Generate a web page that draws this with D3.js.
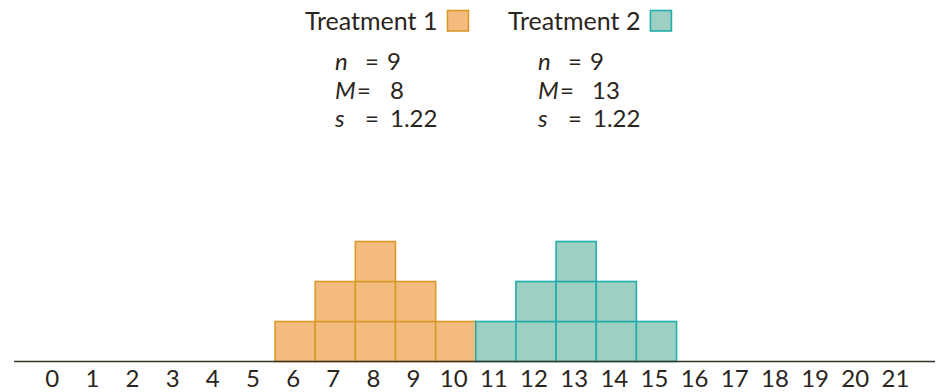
<!DOCTYPE html>
<html>
<head>
<meta charset="utf-8">
<script src="https://cdn.jsdelivr.net/npm/d3@7"></script>
<style>
  html, body { margin: 0; padding: 0; background: #fff; }
  svg { display: block; }
  text { font-family: "Lato", "Noto Sans", sans-serif; fill: #2b2520; }
</style>
</head>
<body>
<svg id="chart" width="936" height="392"></svg>
<script>
// Scores for each treatment group
const treatment1 = [6, 7, 7, 8, 8, 8, 9, 9, 10];
const treatment2 = [11, 12, 12, 13, 13, 13, 14, 14, 15];
const seriesNames = ["Treatment 1", "Treatment 2"];
const tickValues = d3.range(0, 22);

const fills = ["#f3bb7e", "#9dcfc3"];
const strokes = ["#d99a2c", "#23aeaa"];

const svg = d3.select("#chart");
const x = d3.scaleLinear().domain([0, 21]).range([54.2, 897.4]);
const unit = x(1) - x(0);
const y = d3.scaleLinear().domain([0, 3]).range([361.5, 241.5]);
const boxH = y(0) - y(1);

// Stack each score as one box in its column
function stackBoxes(values) {
  const counts = {};
  return values.map(v => {
    counts[v] = (counts[v] || 0) + 1;
    return { value: v, level: counts[v] - 1 };
  });
}

[treatment1, treatment2].forEach((vals, i) => {
  svg.append("g")
    .selectAll("rect")
    .data(stackBoxes(vals))
    .join("rect")
    .attr("x", d => x(d.value) - unit / 2)
    .attr("y", d => y(d.level + 1))
    .attr("width", unit)
    .attr("height", boxH)
    .attr("fill", fills[i])
    .attr("stroke", strokes[i])
    .attr("stroke-width", 1.6);
});

// Baseline (number line)
svg.append("line")
  .attr("x1", 14).attr("x2", 935)
  .attr("y1", y(0)).attr("y2", y(0))
  .attr("stroke", "#3a3128").attr("stroke-width", 1.5);

// Tick labels
svg.append("g")
  .selectAll("text")
  .data(tickValues)
  .join("text")
  .attr("x", d => x(d) - 2)
  .attr("y", 387)
  .attr("text-anchor", "middle")
  .attr("font-size", 24)
  .text(d => d);

// Legend and summary statistics
function stats(vals) {
  return { n: vals.length, m: d3.mean(vals), s: d3.deviation(vals) };
}

const legendX = [305, 508];
const statX = [335, 538];
[treatment1, treatment2].forEach((vals, i) => {
  const g = svg.append("g");
  const label = g.append("text")
    .attr("x", legendX[i]).attr("y", 30)
    .attr("font-size", 25)
    .text(seriesNames[i]);
  const w = label.node().getComputedTextLength();
  g.append("rect")
    .attr("x", legendX[i] + w + 10).attr("y", 10.5)
    .attr("width", 21).attr("height", 20.5)
    .attr("fill", fills[i]).attr("stroke", strokes[i]).attr("stroke-width", 1.6);

  const st = stats(vals);
  const rows = [
    { sym: "n", eqDx: 30, val: String(st.n), valDx: 52 },
    { sym: "M", eqDx: 22, val: d3.format("d")(st.m), valDx: i === 1 ? 54 : 55 },
    { sym: "s", eqDx: 30, val: d3.format(".2f")(st.s), valDx: 55 }
  ];
  rows.forEach((r, k) => {
    const yy = 70 + k * 28.5;
    g.append("text").attr("x", statX[i]).attr("y", yy)
      .attr("font-size", 24).attr("font-style", "italic").text(r.sym);
    g.append("text").attr("x", statX[i] + r.eqDx).attr("y", yy)
      .attr("font-size", 24).text("=");
    g.append("text").attr("x", statX[i] + r.valDx).attr("y", yy)
      .attr("font-size", 24).text(r.val);
  });
});
</script>
</body>
</html>
